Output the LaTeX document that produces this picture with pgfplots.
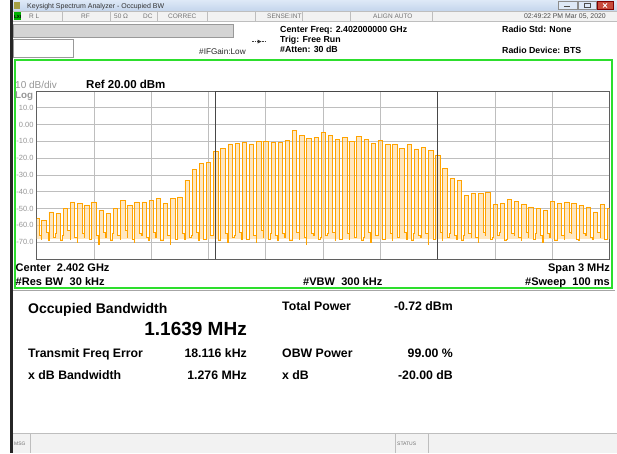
\documentclass[border=0pt]{standalone}
\usepackage{fontspec}
\setmainfont{Liberation Sans}
\usepackage{pgfplots}
\pgfplotsset{compat=1.18}
\usepackage{pgfplotstable}

\definecolor{trace}{RGB}{255,163,0}
\definecolor{tracefill}{RGB}{255,215,150}
\definecolor{panelgreen}{RGB}{45,222,45}
\definecolor{gridgray}{RGB}{190,190,190}
\definecolor{bordergray}{RGB}{95,95,95}
\definecolor{labgray}{RGB}{150,150,150}
\definecolor{barbg}{RGB}{242,242,242}
\definecolor{titletop}{RGB}{222,233,247}
\definecolor{titlebot}{RGB}{196,213,236}
\definecolor{sepgray}{RGB}{190,190,190}

\newcommand\fs[1]{\fontsize{#1}{#1}\selectfont}

% spectrum trace, frequency offset from 2.402 GHz in MHz, level in dBm
\pgfplotstableread{
x y
-1.5 -56
-1.4885 -66
-1.4765 -68
-1.474 -57
-1.451 -64
-1.439 -69
-1.4365 -52
-1.4135 -67
-1.4015 -65
-1.399 -53
-1.376 -69
-1.364 -66
-1.3615 -50
-1.3385 -63
-1.3265 -68
-1.324 -46
-1.301 -67
-1.289 -70
-1.2865 -47
-1.2635 -65
-1.2515 -67
-1.249 -48
-1.226 -68
-1.214 -64
-1.2115 -46
-1.1885 -66
-1.1765 -71
-1.174 -51
-1.151 -64
-1.139 -67
-1.1365 -53
-1.1135 -69
-1.1015 -65
-1.099 -50
-1.076 -66
-1.064 -68
-1.0615 -45
-1.0385 -63
-1.0265 -67
-1.024 -48
-1.001 -68
-0.989 -70
-0.9865 -46
-0.9635 -65
-0.9515 -66
-0.949 -46
-0.926 -67
-0.914 -69
-0.9115 -45
-0.8885 -64
-0.8765 -67
-0.874 -44
-0.851 -69
-0.839 -66
-0.8365 -47
-0.8135 -66
-0.8015 -71
-0.799 -44
-0.776 -68
-0.764 -64
-0.7615 -43
-0.7385 -65
-0.7265 -68
-0.724 -33
-0.701 -67
-0.689 -66
-0.6865 -26.5
-0.6635 -64
-0.6515 -69
-0.649 -23
-0.626 -68
-0.614 -67
-0.6115 -22.5
-0.5885 -66
-0.5765 -65
-0.574 -16
-0.551 -69
-0.539 -68
-0.5365 -14
-0.5135 -65
-0.5015 -70
-0.499 -11.5
-0.476 -67
-0.464 -66
-0.4615 -11
-0.4385 -64
-0.4265 -68
-0.424 -10.5
-0.401 -68
-0.389 -66
-0.3865 -11.5
-0.3635 -66
-0.3515 -70
-0.349 -10
-0.326 -63
-0.314 -67
-0.3115 -10
-0.2885 -68
-0.2765 -65
-0.274 -10.5
-0.251 -66
-0.239 -69
-0.2365 -10.5
-0.2135 -65
-0.2015 -67
-0.199 -9.5
-0.176 -69
-0.164 -66
-0.1615 -3.5
-0.1385 -64
-0.1265 -68
-0.124 -6.5
-0.101 -67
-0.089 -71
-0.0865 -8
-0.0635 -65
-0.0515 -66
-0.049 -7.5
-0.026 -68
-0.014 -67
-0.0115 -4.5
0.0115 -66
0.0235 -65
0.026 -6.5
0.049 -64
0.061 -69
0.0635 -9
0.0865 -68
0.0985 -66
0.101 -7.5
0.124 -65
0.136 -68
0.1385 -10
0.1615 -67
0.1735 -64
0.176 -7
0.199 -69
0.211 -67
0.2135 -9
0.2365 -64
0.2485 -70
0.251 -11
0.274 -66
0.286 -65
0.2885 -9.5
0.3115 -68
0.3235 -67
0.326 -12
0.349 -65
0.361 -69
0.3635 -12
0.3865 -67
0.3985 -66
0.401 -14
0.424 -64
0.436 -68
0.4385 -12
0.4615 -69
0.4735 -65
0.476 -14.5
0.499 -66
0.511 -67
0.5135 -13.5
0.5365 -65
0.5485 -71
0.551 -15.5
0.574 -68
0.586 -66
0.5885 -18
0.6115 -64
0.6235 -69
0.626 -26
0.649 -67
0.661 -65
0.6635 -32
0.6865 -66
0.6985 -68
0.701 -33
0.724 -69
0.736 -66
0.7385 -42
0.7615 -65
0.7735 -67
0.776 -41
0.799 -67
0.811 -70
0.8135 -41
0.8365 -64
0.8485 -66
0.851 -40.5
0.874 -68
0.886 -67
0.8885 -47.5
0.9115 -66
0.9235 -64
0.926 -47
0.949 -69
0.961 -68
0.9635 -44.5
0.9865 -65
0.9985 -66
1.001 -45.5
1.024 -67
1.036 -69
1.0385 -47.5
1.0615 -64
1.0735 -67
1.076 -49
1.099 -68
1.111 -65
1.1135 -50
1.1365 -66
1.1485 -70
1.151 -51
1.174 -65
1.186 -67
1.1885 -45.5
1.2115 -69
1.2235 -66
1.226 -47
1.249 -66
1.261 -68
1.2635 -46
1.2865 -64
1.2985 -65
1.301 -47
1.324 -68
1.336 -69
1.3385 -48
1.3615 -65
1.3735 -66
1.376 -49
1.399 -67
1.411 -68
1.4135 -52
1.4365 -64
1.4485 -67
1.451 -47.5
1.474 -68
1.486 -65
1.4885 -50
1.5 -50
}\trace

\begin{document}
\begin{tikzpicture}
% ---- window frame, pixel coordinates (y down) ----
\begin{scope}[x=1pt,y=-1pt]
  \fill[white] (0,0) rectangle (617,453);
  \fill[black!85] (10,0) rectangle (13,453);
  % title bar
  \shade[top color=titletop, bottom color=titlebot] (13,0) rectangle (617,11);
  \fill[yellow!60!black] (14,2) rectangle (20,9);
  \node[anchor=base west, inner sep=0pt, text=black!80] at (27,8.6) {\fs{7}Keysight Spectrum Analyzer - Occupied BW};
  \draw[black!45, fill=titletop] (558,1.5) rectangle (577,9.5);
  \draw[black!70] (564,6.5) -- (570,6.5);
  \draw[black!45, fill=titletop] (578,1.5) rectangle (596,9.5);
  \draw[black!70] (584,3.5) rectangle (590,7.5);
  \draw[red!50!black, fill={rgb,255:red,200;green,75;blue,60}] (597,1.5) rectangle (613,9.5);
  \draw[white, line width=0.8pt] (603,3.5) -- (607,7.5) (603,7.5) -- (607,3.5);
  % status row
  \fill[barbg] (13,11) rectangle (617,21);
  \draw[sepgray] (13,11) -- (617,11) (13,21) -- (617,21);
  \fill[green!70!black] (13.5,12) rectangle (21,20);
  \node[anchor=base west, inner sep=0pt] at (14,18) {\fs{4.5}\bfseries LXI};
  \foreach \s in {61.7,109.7,157,207,255,302,350,432}
    \draw[sepgray] (\s,11.5) -- (\s,20.5);
  \begin{scope}[every node/.style={anchor=base west, inner sep=0pt, text=black!55}]
    \node at (29,18.3) {\fs{6.5}R L};
    \node at (81,18.3) {\fs{6.5}RF};
    \node at (114,18.3) {\fs{6.5}50 Ω};
    \node at (143,18.3) {\fs{6.5}DC};
    \node at (168,18.3) {\fs{6.5}CORREC};
    \node at (267,18.3) {\fs{6.5}SENSE:INT};
    \node at (373,18.3) {\fs{6.5}ALIGN AUTO};
  \end{scope}
  \node[anchor=base east, inner sep=0pt, text=black!70] at (606,18.3) {\fs{6.9}02:49:22 PM Mar 05, 2020};
  % header info
  \draw[black!40, fill=black!17] (13,24) rectangle (233,36.7);
  \draw[black!40] (13,38.7) rectangle (73,57);
  \node[anchor=base west, inner sep=0pt, text=black!85] at (199,54) {\fs{8.2}\#IFGain:Low};
  \draw[black!75, dash pattern=on 1.5pt off 1pt] (252,41.5) -- (267,41.5);
  \fill[black!80] (257.5,39.5) -- (261.5,41.5) -- (257.5,43.5) -- cycle;
  \begin{scope}[every node/.style={anchor=base west, inner sep=0pt}]
    \node at (280,32) {\fs{8.8}\bfseries Center Freq: 2.402000000 GHz};
    \node at (280,42) {\fs{8.8}\bfseries Trig: Free Run};
    \node at (280,52.5) {\fs{8.8}\bfseries \#Atten: 30 dB};
    \node at (502,32) {\fs{8.8}\bfseries Radio Std: None};
    \node at (502,53) {\fs{8.8}\bfseries Radio Device: BTS};
  \end{scope}
  % results panel and message bar
  \draw[black!35] (13,290) -- (615,290);
  \fill[barbg] (13,433) rectangle (617,453);
  \draw[sepgray] (13,433) -- (617,433);
  \foreach \s in {30,395,428}
    \draw[sepgray] (\s,433) -- (\s,453);
  \node[anchor=base west, inner sep=0pt, text=black!55] at (14,445.5) {\fs{5}MSG};
  \node[anchor=base west, inner sep=0pt, text=black!55] at (397,445.5) {\fs{5}STATUS};
  % green measurement panel
  \draw[panelgreen, line width=2pt] (14.5,60) rectangle (611.5,288);
\end{scope}

\begin{axis}[
  at={(36.7pt,-259pt)}, anchor=south west,
  scale only axis, width=573pt, height=168pt,
  xmin=-1.5, xmax=1.5, ymin=-80, ymax=20,
  xtick={-1.2,-0.9,-0.6,-0.3,0,0.3,0.6,0.9,1.2},
  ytick={-70,-60,-50,-40,-30,-20,-10,0,10},
  yticklabels={-70.0,-60.0,-50.0,-40.0,-30.0,-20.0,-10.0,0.00,10.0},
  xticklabel=\empty,
  yticklabel style={font=\fs{7.5}, text=labgray, inner sep=0pt, xshift=-3pt},
  major tick length=0pt,
  grid=major,
  grid style={gridgray, line width=1pt},
  axis line style={bordergray, line width=1pt},
]
  % light fill inside the pulses, closed along a line near the noise floor
  \addplot[const plot mark left, draw=none, fill=tracefill, fill opacity=0.6, forget plot]
    table {\trace} -- (axis cs:1.5,-68) -- (axis cs:-1.5,-68) -- cycle;
  \addplot[const plot mark left, trace, line width=0.65pt] table {\trace};
  % occupied bandwidth markers
  \addplot[black!72, line width=1.1pt] coordinates {(-0.5638,-80) (-0.5638,20) (0.6001,20) (0.6001,-80)};
\end{axis}

\begin{scope}[x=1pt,y=-1pt]
  \begin{scope}[every node/.style={anchor=base west, inner sep=0pt}]
    \node[text=labgray] at (15,88.5) {\fs{10}10 dB/div};
    \node[text=labgray] at (15,98.5) {\fs{9.8}\bfseries Log};
    \node at (86,88.5) {\fs{11.5}\bfseries Ref 20.00 dBm};
    \node at (15.5,271.5) {\fs{11}\bfseries Center\hspace{0.3em} 2.402 GHz};
    \node at (15.5,285) {\fs{11}\bfseries \#Res BW\hspace{0.3em} 30 kHz};
    \node at (303,285) {\fs{11}\bfseries \#VBW\hspace{0.3em} 300 kHz};
    \node at (28,313) {\fs{14}\bfseries Occupied Bandwidth};
    \node at (28,357.5) {\fs{12.3}\bfseries Transmit Freq Error};
    \node at (28,379.5) {\fs{12.3}\bfseries x dB Bandwidth};
    \node at (282,310.5) {\fs{12.3}\bfseries Total Power};
    \node at (282,357.5) {\fs{12.3}\bfseries OBW Power};
    \node at (282,379.5) {\fs{12.3}\bfseries x dB};
  \end{scope}
  \begin{scope}[every node/.style={anchor=base east, inner sep=0pt}]
    \node at (610,271.5) {\fs{11}\bfseries Span 3 MHz};
    \node at (610,285) {\fs{11}\bfseries \#Sweep\hspace{0.3em} 100 ms};
    \node at (247,335) {\fs{19}\bfseries 1.1639 MHz};
    \node at (247,357.5) {\fs{12.3}\bfseries 18.116 kHz};
    \node at (247,379.5) {\fs{12.3}\bfseries 1.276 MHz};
    \node at (453,310.5) {\fs{12.3}\bfseries -0.72 dBm};
    \node at (453,357.5) {\fs{12.3}\bfseries 99.00 \%};
    \node at (453,379.5) {\fs{12.3}\bfseries -20.00 dB};
  \end{scope}
\end{scope}
\pgfresetboundingbox
\useasboundingbox (0,0) rectangle (617pt,-453pt);
\end{tikzpicture}
\end{document}
